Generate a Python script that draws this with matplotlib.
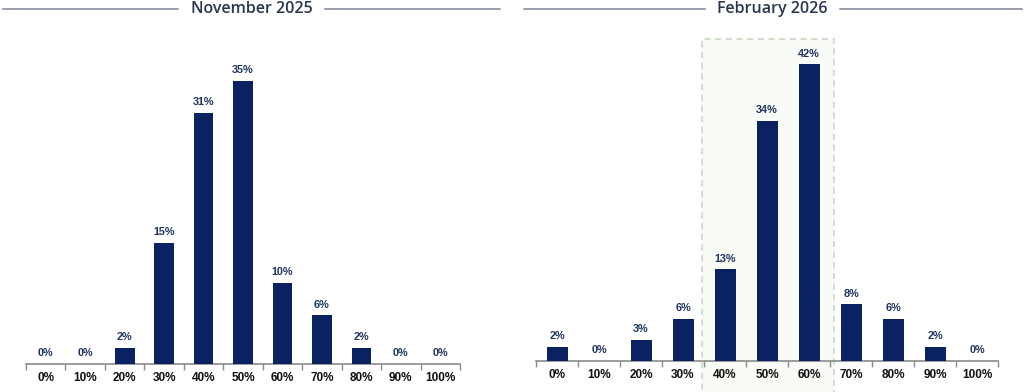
import matplotlib
matplotlib.use("Agg")
import matplotlib.pyplot as plt
from matplotlib.lines import Line2D
from matplotlib.patches import Rectangle

categories = ["0%", "10%", "20%", "30%", "40%", "50%", "60%", "70%", "80%", "90%", "100%"]
nov_2025 = [0, 0, 2, 15, 31, 35, 10, 6, 2, 0, 0]
feb_2026 = [2, 0, 3, 6, 13, 34, 42, 8, 6, 2, 0]
titles = ["November 2025", "February 2026"]

BAR = "#0b2262"
LBL = "#1f3462"
TITLE = "#2a3550"
RULE = "#7d8494"

W, H = 1024, 392
fig = plt.figure(figsize=(W / 100, H / 100), dpi=100)

def px(x0, ybot, w, h):
    return [x0 / W, ybot / H, w / W, h / H]

ax1 = fig.add_axes(px(26, 28, 434, 324))
ax2 = fig.add_axes(px(536, 31, 462, 318))

def style(ax, vals, ymax):
    x = list(range(len(categories)))
    ax.bar(x, vals, width=0.5, color=BAR, zorder=3)
    ax.set_xlim(-0.5, len(categories) - 0.5)
    ax.set_ylim(0, ymax)
    for s in ["top", "right", "left"]:
        ax.spines[s].set_visible(False)
    ax.spines["bottom"].set_color("#8a8a8a")
    ax.spines["bottom"].set_linewidth(1.2)
    ax.set_yticks([])
    ax.set_xticks(x)
    ax.set_xticklabels(categories, fontfamily="Liberation Sans", fontweight="bold",
                       fontsize=8.5, color="#111111")
    ax.tick_params(axis="x", which="major", length=0, pad=6)
    ax.set_xticks([i - 0.5 for i in range(len(categories) + 1)], minor=True)
    ax.tick_params(axis="x", which="minor", length=4, width=1, color="#8a8a8a", direction="out")
    ax.patch.set_alpha(0)
    for xi, v in zip(x, vals):
        ax.annotate(f"{v}%", (xi, v), xytext=(0, 4), textcoords="offset points",
                    ha="center", va="bottom", fontfamily="Liberation Sans",
                    fontweight="bold", fontsize=7.8, color=LBL, zorder=4)

style(ax1, nov_2025, 40)
style(ax2, feb_2026, 45)

# highlight box on right panel (around 40%-60%)
rect = Rectangle((3.45, -4.5), 3.15, 50.0, transform=ax2.transData, clip_on=False,
                 facecolor="#f9fbf7", edgecolor="#c6d6c0", linestyle=(0, (4, 3)),
                 linewidth=1.1, zorder=0)
ax2.add_patch(rect)

# titles with rules
def title(cx, text, l0, l1, r0, r1):
    y = 1 - 9 / H
    fig.text(cx / W, y, text, ha="center", va="center", fontfamily="Open Sans",
             fontweight="semibold", fontsize=11.5, color=TITLE)
    fig.add_artist(Line2D([l0 / W, l1 / W], [y, y], color=RULE, lw=1.1))
    fig.add_artist(Line2D([r0 / W, r1 / W], [y, y], color=RULE, lw=1.1))

title(252, titles[0], 3, 178, 325, 500)
title(772, titles[1], 524, 705, 840, 1022)

fig.savefig("out.png", dpi=100, facecolor="white")
